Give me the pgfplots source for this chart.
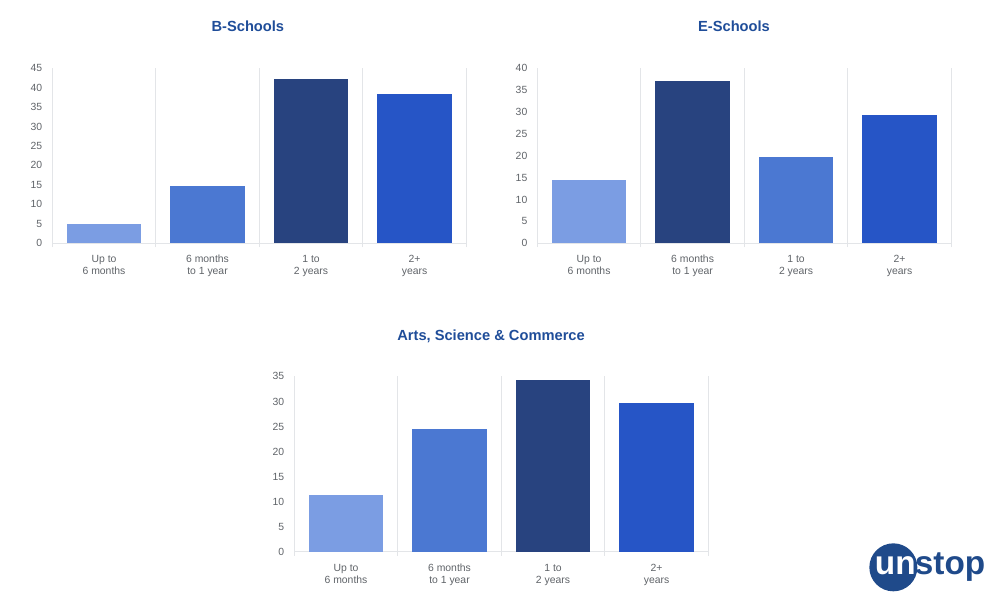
\documentclass[border=0pt]{standalone}
\usepackage{fontspec}
\setmainfont{Liberation Sans}
\usepackage{pgfplots}
\pgfplotsset{compat=1.18}

\definecolor{barA}{HTML}{7B9DE3}
\definecolor{barB}{HTML}{4B78D2}
\definecolor{barC}{HTML}{28437F}
\definecolor{barD}{HTML}{2655C6}
\definecolor{titleblue}{HTML}{1F4D99}
\definecolor{tickgray}{HTML}{5F6368}
\definecolor{gridgray}{HTML}{E3E5E8}
\definecolor{logoblue}{HTML}{1F4A8A}

\pgfplotsset{
  schoolbar/.style={
    ybar, bar width=0.72, bar shift=0pt,
    scale only axis, clip=false,
    width=310.5pt, height=131.5pt,
    xmin=-0.5, xmax=3.5, ymin=0,
    axis line style={draw=none},
    major tick length=0pt,
    tick style={draw=none},
    xtick={0,1,2,3},
    xticklabels={{\strut Up to\\6 months},{\strut 6 months\\to 1 year},{\strut 1 to\\2 years},{\strut 2+\\years}},
    xticklabel style={align=center, anchor=north, font=\fontsize{7.8}{9.2}\selectfont, text=tickgray, yshift=-4.5pt},
    yticklabel style={font=\fontsize{7.8}{9.2}\selectfont, text=tickgray, xshift=-4pt},
    /pgf/number format/assume math mode=true,
    every axis plot/.append style={draw=none},
  },
}

\newcommand{\catlines}{%
  \pgfplotsinvokeforeach{-0.5,0.5,1.5,2.5,3.5}{%
    \draw[gridgray, line width=0.6pt] ([yshift=-3pt]axis cs:##1,0) -- (axis cs:##1,\pgfkeysvalueof{/pgfplots/ymax});}%
  \draw[gridgray, line width=0.6pt] (axis cs:-0.5,0) -- (axis cs:3.5,0);%
}

\begin{document}
\begin{tikzpicture}[x=1pt,y=1pt]
\useasboundingbox (0,0) rectangle (750,450);

% B-Schools
\node[font=\fontsize{11}{13}\selectfont\bfseries, text=titleblue] at (185.9,430) {B-Schools};
\begin{axis}[schoolbar, at={(39.2pt,267.5pt)}, anchor=south west,
  ymax=45, ytick={0,5,...,45}]
  \catlines
  \addplot[fill=barA] coordinates {(0,5)};
  \addplot[fill=barB] coordinates {(1,14.8)};
  \addplot[fill=barC] coordinates {(2,42.1)};
  \addplot[fill=barD] coordinates {(3,38.2)};
\end{axis}

% E-Schools
\node[font=\fontsize{11}{13}\selectfont\bfseries, text=titleblue] at (550.5,430) {E-Schools};
\begin{axis}[schoolbar, at={(403pt,267.5pt)}, anchor=south west,
  ymax=40, ytick={0,5,...,40}]
  \catlines
  \addplot[fill=barA] coordinates {(0,14.4)};
  \addplot[fill=barC] coordinates {(1,37)};
  \addplot[fill=barB] coordinates {(2,19.6)};
  \addplot[fill=barD] coordinates {(3,29.2)};
\end{axis}

% Arts, Science & Commerce
\node[font=\fontsize{11}{13}\selectfont\bfseries, text=titleblue] at (368.3,198) {Arts, Science \& Commerce};
\begin{axis}[schoolbar, at={(220.7pt,36.2pt)}, anchor=south west,
  ymax=35, ytick={0,5,...,35}]
  \catlines
  \addplot[fill=barA] coordinates {(0,11.3)};
  \addplot[fill=barB] coordinates {(1,24.5)};
  \addplot[fill=barC] coordinates {(2,34.3)};
  \addplot[fill=barD] coordinates {(3,29.7)};
\end{axis}

% logo
\fill[logoblue] (670,24.5) circle (18);
\node[anchor=base west, inner sep=0, text=white, font=\fontsize{25}{25}\selectfont\bfseries] at (656,18.75) {un};
\node[anchor=base west, inner sep=0, text=logoblue, font=\fontsize{25}{25}\selectfont\bfseries] at (686,18.75) {stop};
\end{tikzpicture}
\end{document}
